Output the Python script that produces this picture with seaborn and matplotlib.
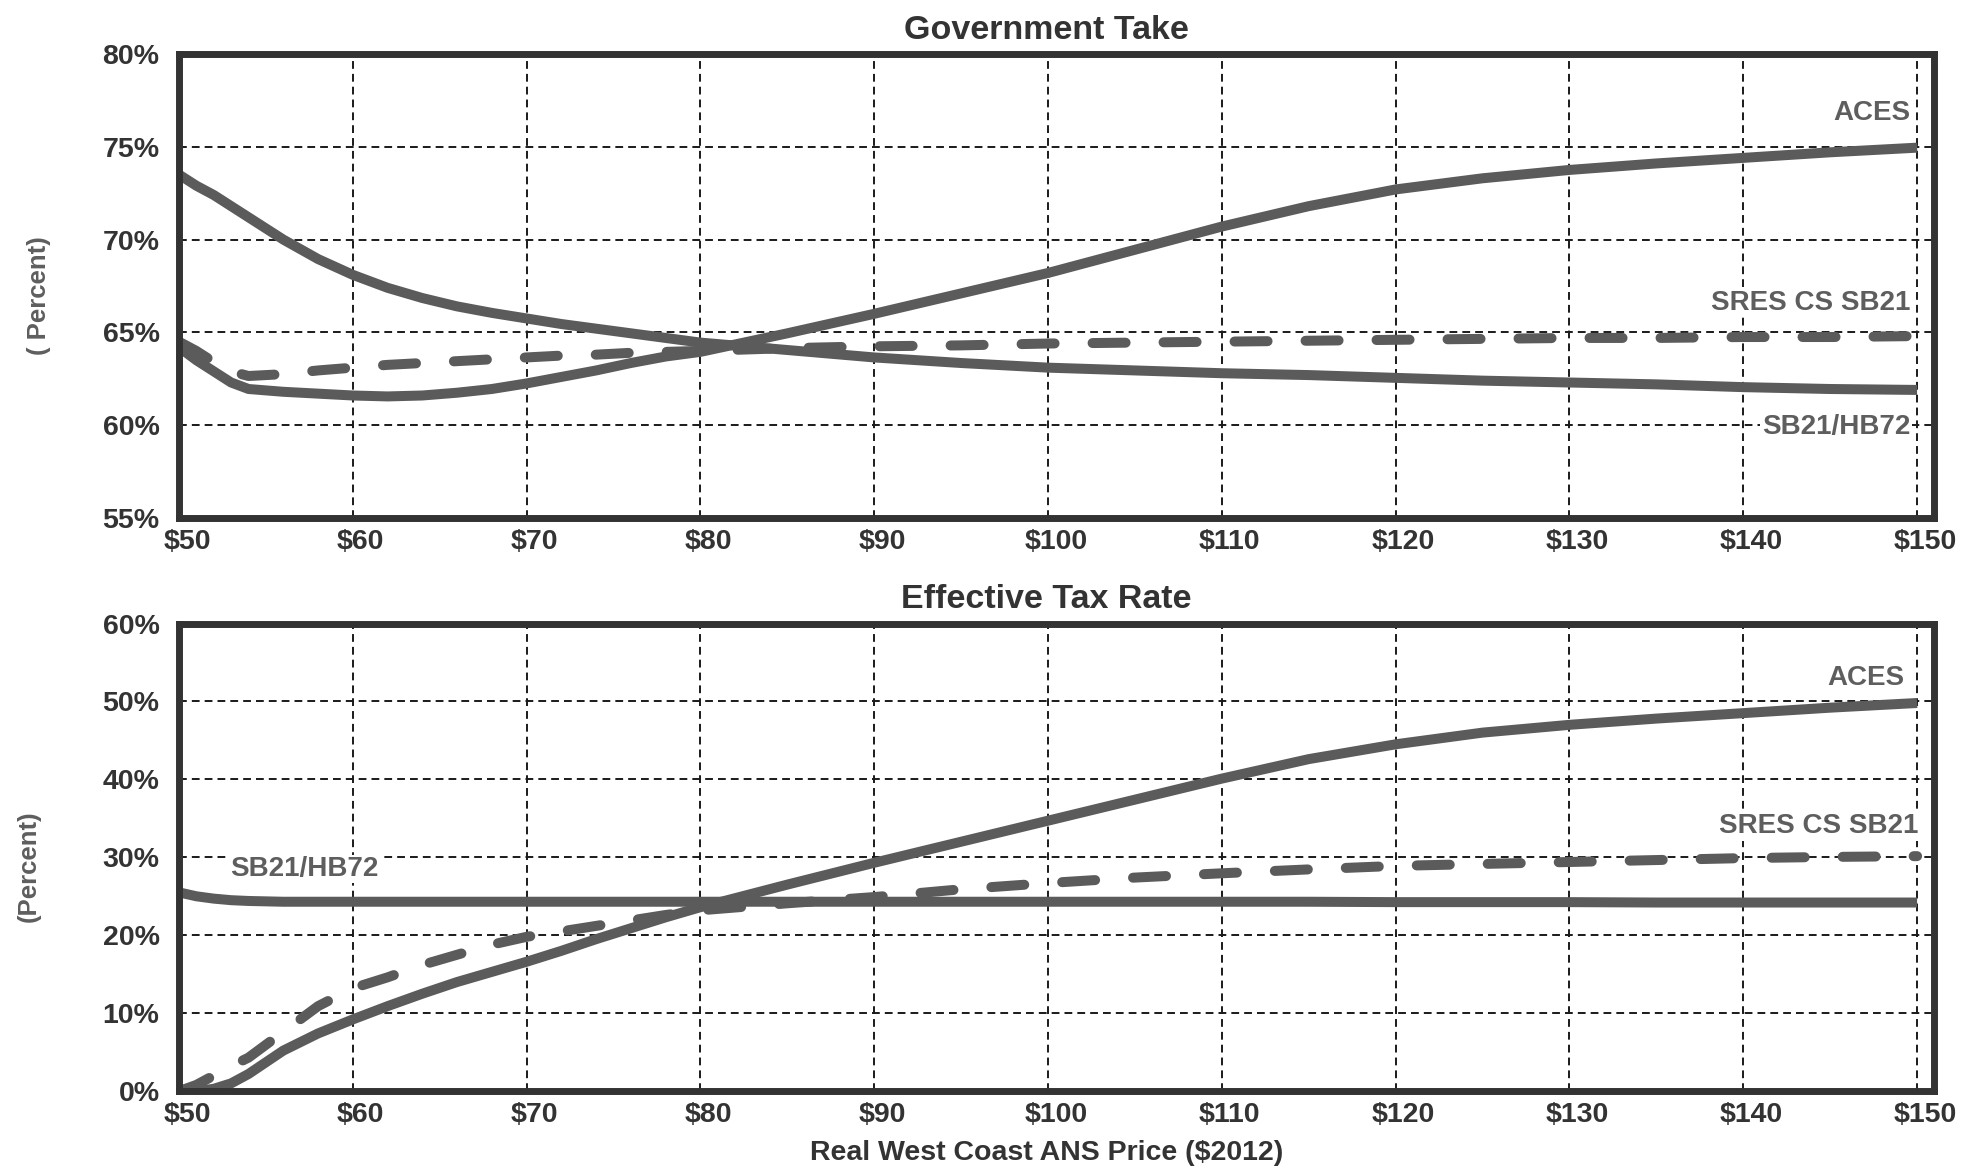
import matplotlib
matplotlib.use("Agg")
import matplotlib.pyplot as plt
import matplotlib.transforms as mtransforms
import seaborn as sns
import pandas as pd

# ANS price points (real $2012 per barrel)
price = [50, 51, 52, 53, 54, 56, 58, 60, 62, 64, 66, 68, 70, 72, 74, 76, 78, 80,
         85, 90, 95, 100, 105, 110, 115, 120, 125, 130, 135, 140, 145, 150]

# Government take (%)
gt_aces = [64.2, 63.5, 62.9, 62.3, 61.95, 61.8, 61.7, 61.6, 61.55, 61.6, 61.75, 61.95,
           62.25, 62.6, 62.95, 63.35, 63.7, 63.95, 64.95, 66.0, 67.1, 68.2, 69.45, 70.7,
           71.8, 72.7, 73.3, 73.75, 74.1, 74.4, 74.7, 74.95]
gt_sb21 = [73.5, 72.9, 72.4, 71.8, 71.2, 70.0, 68.95, 68.1, 67.4, 66.85, 66.4, 66.05,
           65.75, 65.45, 65.2, 64.95, 64.7, 64.45, 64.05, 63.65, 63.35, 63.1, 62.95, 62.8,
           62.7, 62.55, 62.4, 62.3, 62.2, 62.05, 61.95, 61.9]
gt_sres = [64.5, 64.0, 63.4, 62.9, 62.65, 62.75, 62.95, 63.1, 63.25, 63.35, 63.45, 63.55,
           63.65, 63.75, 63.8, 63.9, 63.95, 64.0, 64.15, 64.25, 64.3, 64.4, 64.45, 64.5,
           64.55, 64.6, 64.65, 64.7, 64.7, 64.75, 64.75, 64.8]

# Effective tax rate (%)
etr_aces = [0.0, 0.0, 0.3, 1.0, 2.2, 5.2, 7.4, 9.2, 10.9, 12.5, 14.0, 15.3, 16.6, 18.0,
            19.5, 20.9, 22.3, 23.6, 26.5, 29.3, 32.0, 34.7, 37.4, 40.1, 42.6, 44.5, 46.0,
            47.0, 47.8, 48.5, 49.2, 49.8]
etr_sb21 = [25.5, 25.0, 24.7, 24.5, 24.4, 24.3, 24.3, 24.3, 24.3, 24.3, 24.3, 24.3, 24.3,
            24.3, 24.3, 24.3, 24.3, 24.3, 24.3, 24.3, 24.3, 24.3, 24.3, 24.3, 24.3, 24.25,
            24.25, 24.25, 24.2, 24.2, 24.2, 24.2]
etr_sres = [0.0, 0.8, 2.0, 3.2, 4.3, 7.6, 10.9, 13.2, 14.6, 16.2, 17.5, 18.8, 19.8, 20.5,
            21.2, 21.9, 22.6, 23.2, 24.1, 24.9, 25.9, 26.7, 27.4, 27.95, 28.45, 28.9, 29.15,
            29.4, 29.65, 29.9, 30.05, 30.15]

x_ticks = [50, 60, 70, 80, 90, 100, 110, 120, 130, 140, 150]
gt_ticks = [55, 60, 65, 70, 75, 80]
etr_ticks = [0, 10, 20, 30, 40, 50, 60]

sns.set_theme(style="white")
plt.rcParams["font.family"] = ["Liberation Sans", "DejaVu Sans"]
plt.rcParams["font.weight"] = "bold"

LINE = "#5b5b5b"
TEXT = "#333333"
LABEL = "#5e5e5e"

fig = plt.figure(figsize=(19.8, 11.72), dpi=100)
ax_top = fig.add_axes([0.0904, 0.558, 0.8866, 0.396])
ax_bot = fig.add_axes([0.0904, 0.069, 0.8866, 0.399])


def series_frame(values):
    return pd.DataFrame({"price": price, "value": values})


def draw(ax, values, dashed=False):
    sns.lineplot(data=series_frame(values), x="price", y="value", ax=ax,
                 color=LINE, linewidth=7.2, zorder=3)
    line = ax.lines[-1]
    if dashed:
        line.set_dashes([3.3, 3.8])
        line.set_dash_capstyle("round")
    else:
        line.set_solid_capstyle("butt")


def style(ax, yticks, title, ylabel, ylab_x):
    ax.set_xlim(50, 151)
    ax.set_ylim(yticks[0], yticks[-1])
    ax.set_xticks(x_ticks)
    ax.set_xticklabels([f"${v}" for v in x_ticks])
    ax.set_yticks(yticks)
    ax.set_yticklabels([f"{v}%" for v in yticks])
    ax.tick_params(axis="both", length=0, labelsize=20.5, colors=TEXT)
    ax.tick_params(axis="y", pad=14)
    ax.tick_params(axis="x", pad=8)
    # price labels sit slightly right of their gridlines
    shift = mtransforms.ScaledTranslation(0.08, 0, fig.dpi_scale_trans)
    for lbl in ax.get_xticklabels():
        lbl.set_transform(lbl.get_transform() + shift)
    ax.grid(True, color="#1a1a1a", linewidth=1.4, linestyle=(0, (4, 2.6)), zorder=1)
    for sp in ax.spines.values():
        sp.set_visible(True)
        sp.set_linewidth(5)
        sp.set_color("#333333")
        sp.set_zorder(5)
    ax.set_title(title, fontsize=24.5, fontweight="bold", color=TEXT, pad=11, x=0.494)
    ax.set_xlabel("")
    ax.set_ylabel(ylabel, fontsize=18.5, fontweight="bold", color=LABEL)
    ax.yaxis.set_label_coords(ylab_x, 0.48)


def tag(ax, x, y, text, ha="right"):
    ax.text(x, y, text, ha=ha, va="center", fontsize=20, fontweight="bold",
            color=LABEL, zorder=4,
            bbox=dict(facecolor="white", edgecolor="none", pad=1.0))


# Government take panel
draw(ax_top, gt_aces)
draw(ax_top, gt_sb21)
draw(ax_top, gt_sres, dashed=True)
style(ax_top, gt_ticks, "Government Take", "( Percent)", -0.073)
tag(ax_top, 149.6, 76.8, "ACES")
tag(ax_top, 149.6, 66.6, "SRES CS SB21")
tag(ax_top, 149.6, 59.9, "SB21/HB72")

# Effective tax rate panel
draw(ax_bot, etr_aces)
draw(ax_bot, etr_sb21)
draw(ax_bot, etr_sres, dashed=True)
style(ax_bot, etr_ticks, "Effective Tax Rate", "(Percent)", -0.079)
ax_bot.set_xlabel("Real West Coast ANS Price ($2012)", fontsize=20.5,
                  fontweight="bold", color=TEXT, labelpad=4)
ax_bot.xaxis.set_label_coords(0.494, -0.105)
tag(ax_bot, 149.3, 53.0, "ACES")
tag(ax_bot, 150.1, 34.0, "SRES CS SB21")
tag(ax_bot, 52.95, 28.5, "SB21/HB72", ha="left")

fig.savefig("out.png", dpi=100, facecolor="white")
